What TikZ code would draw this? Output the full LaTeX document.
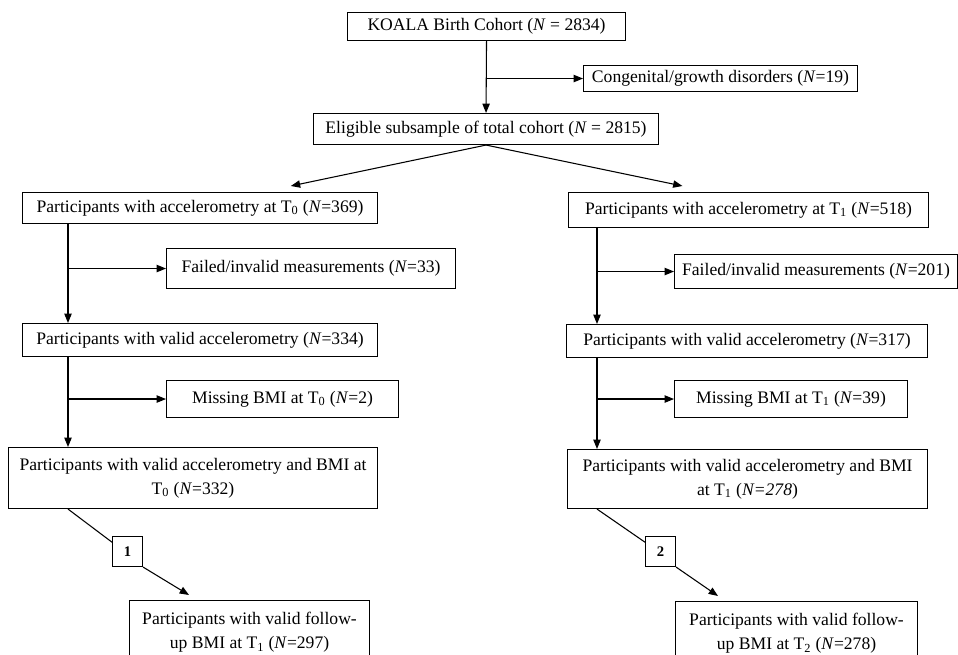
\documentclass[tikz,border=0pt]{standalone}
\usepackage{fontspec}
\setmainfont{Liberation Serif}
\usetikzlibrary{arrows.meta,calc}

\newdimen\px
\px=0.75pt

\begin{document}
\begin{tikzpicture}[x=0.75pt,y=-0.75pt,
  box/.style={draw, line width=0.8pt, inner sep=0pt, anchor=north west,
    align=center, font=\fontsize{13.2}{18}\selectfont},
  numbox/.style={draw, line width=0.8pt, inner sep=0pt, anchor=north west,
    minimum size=30*\px, font=\fontsize{11}{12}\selectfont\bfseries},
  arr/.style={-{Triangle[length=7pt,width=5.5pt]}, line width=0.8pt},
  line/.style={line width=0.8pt}]
  \useasboundingbox (0,0) rectangle (958,655);

  % top of the cohort
  \node[box, minimum width=278*\px, minimum height=28*\px] (koala) at (347,12) {KOALA Birth Cohort (\textit{N} = 2834)};
  \node[box, minimum width=274*\px, minimum height=26*\px] (cong) at (583,65) {Congenital/growth disorders (\textit{N}=19)};
  \node[box, minimum width=345*\px, minimum height=31*\px] (elig) at (313,113) {Eligible subsample of total cohort (\textit{N} = 2815)};

  % left branch, T0
  \coordinate (lt) at (68,0);
  \node[box, minimum width=355*\px, minimum height=31*\px] (acc0) at (22,192) {Participants with accelerometry at T\textsubscript{0} (\textit{N}=369)};
  \node[box, minimum width=289*\px, minimum height=40*\px] (fail0) at (166,248) {Failed/invalid measurements (\textit{N}=33)};
  \node[box, minimum width=355*\px, minimum height=33*\px] (val0) at (22,323) {Participants with valid accelerometry (\textit{N}=334)};
  \node[box, minimum width=232*\px, minimum height=37*\px] (miss0) at (166,380) {Missing BMI at T\textsubscript{0} (\textit{N}=2)};
  \node[box, minimum width=369*\px, minimum height=61*\px] (vb0) at (8,447) {Participants with valid accelerometry and BMI at\\T\textsubscript{0} (\textit{N}=332)};
  \node[numbox] (n1) at (112,536) {1};
  \node[box, minimum width=240*\px, minimum height=64*\px] (fu0) at (129,600) {Participants with valid follow-\\up BMI at T\textsubscript{1} (\textit{N}=297)};

  % right branch, T1
  \coordinate (rt) at (597,0);
  \node[box, minimum width=360*\px, minimum height=35*\px] (acc1) at (568,192) {Participants with accelerometry at T\textsubscript{1} (\textit{N}=518)};
  \node[box, minimum width=283*\px, minimum height=34*\px] (fail1) at (674,254) {Failed/invalid measurements (\textit{N}=201)};
  \node[box, minimum width=361*\px, minimum height=33*\px] (val1) at (566,324) {Participants with valid accelerometry (\textit{N}=317)};
  \node[box, minimum width=233*\px, minimum height=37*\px] (miss1) at (674,380) {Missing BMI at T\textsubscript{1} (\textit{N}=39)};
  \node[box, minimum width=360*\px, minimum height=59*\px] (vb1) at (567,449) {Participants with valid accelerometry and BMI\\at T\textsubscript{1} (\textit{N=278})};
  \node[numbox] (n2) at (645,536) {2};
  \node[box, minimum width=242*\px, minimum height=64*\px] (fu1) at (675,601) {Participants with valid follow-\\up BMI at T\textsubscript{2} (\textit{N}=278)};

  % connectors
  \draw[arr] (koala.south) -- (elig.north);
  \draw[arr] (koala.south |- cong.west) -- (cong.west);
  \draw[arr] (elig.south) -- ($(acc0.north west)!0.755!(acc0.north east)+(0,-6)$);
  \draw[arr] (elig.south) -- ($(acc1.north west)!0.317!(acc1.north east)+(0,-6)$);

  \draw[arr] (acc0.south -| lt) -- (val0.north -| lt);
  \draw[arr] (fail0.west -| lt) -- (fail0.west);
  \draw[arr] (val0.south -| lt) -- (vb0.north -| lt);
  \draw[arr] (miss0.west -| lt) -- (miss0.west);
  \draw[line] (vb0.south -| lt) -- ($(n1.north west)!0.2!(n1.south west)$);
  \draw[arr] (n1.south east) -- ($(fu0.north west)+(60,-5)$);

  \draw[arr] (acc1.south -| rt) -- (val1.north -| rt);
  \draw[arr] (fail1.west -| rt) -- (fail1.west);
  \draw[arr] (val1.south -| rt) -- (vb1.north -| rt);
  \draw[arr] (miss1.west -| rt) -- (miss1.west);
  \draw[line] (vb1.south -| rt) -- ($(n2.north west)!0.2!(n2.south west)$);
  \draw[arr] (n2.south east) -- ($(fu1.north west)+(43,-5)$);
\end{tikzpicture}
\end{document}
